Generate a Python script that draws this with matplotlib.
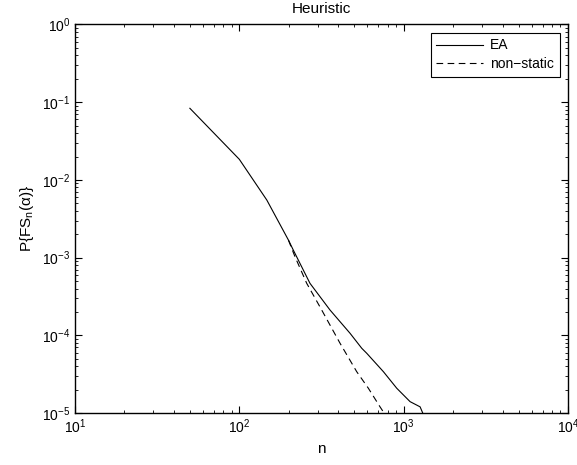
import matplotlib
matplotlib.use("Agg")
import matplotlib.pyplot as plt

plt.rcParams['font.family'] = ['Liberation Sans', 'DejaVu Sans']
plt.rcParams['mathtext.fontset'] = 'custom'
plt.rcParams['mathtext.rm'] = 'Liberation Sans'
plt.rcParams['mathtext.it'] = 'Liberation Sans:italic'
plt.rcParams['mathtext.default'] = 'regular'

# EA curve
n_ea = [50, 100, 147, 199, 213, 269, 356, 472, 556, 596, 753, 908, 1094, 1259, 1306, 1330]
p_ea = [0.0835, 0.0184, 0.0055, 0.00168, 1.25e-3, 4.67e-4, 2.12e-4, 1.06e-4, 6.8e-5,
        5.87e-5, 3.4e-5, 2.08e-5, 1.40e-5, 1.2e-5, 1.0e-5, 9.0e-6]

# non-static curve, branches off EA near n=200
n_ns = [199, 218, 257, 317, 410, 518, 610, 718, 760]
p_ns = [0.00168, 1.03e-3, 4.67e-4, 2.12e-4, 7.9e-5, 3.4e-5, 2.08e-5, 1.2e-5, 1.0e-5]

fig = plt.figure(figsize=(5.77, 4.65), dpi=100)
ax = fig.add_axes([75/577, 1 - 413/465, 493/577, 388.5/465])

ax.loglog(n_ea, p_ea, '-', color='black', lw=0.8, label='EA')
ax.loglog(n_ns, p_ns, '--', color='black', lw=0.8, dashes=(6, 4), label='non\u2212static')

ax.set_xlim(10, 1e4)
ax.set_ylim(1e-5, 1)
ax.set_title('Heuristic', fontsize=11, pad=8)
ax.set_xlabel('n', fontsize=11)
ax.set_ylabel('P{FS$_n$(α)}', fontsize=11)

ax.tick_params(which='both', direction='in', top=True, right=True, labelsize=10)
ax.tick_params(which='major', length=5, width=0.8)
ax.tick_params(which='minor', length=2.5, width=0.6)
for s in ax.spines.values():
    s.set_linewidth(1.0)

leg = ax.legend(loc='upper right', fontsize=10, frameon=True, fancybox=False,
                edgecolor='black', framealpha=1, borderpad=0.4, handlelength=3.4,
                handletextpad=0.5, labelspacing=0.35, borderaxespad=0.6)
leg.get_frame().set_linewidth(0.8)

fig.savefig('out.png', dpi=100)
